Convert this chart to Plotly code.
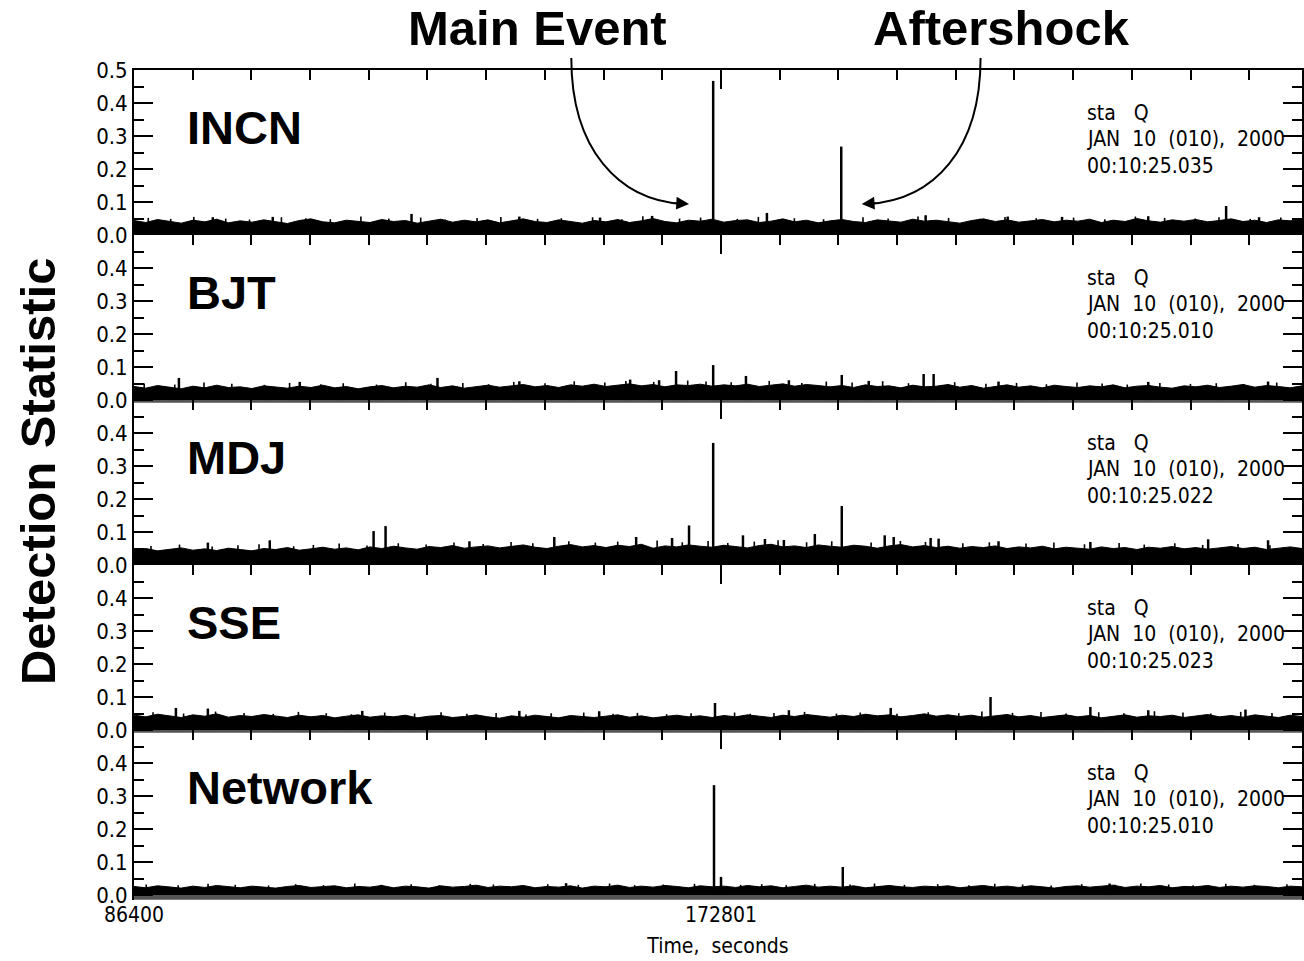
import numpy as np
import plotly.graph_objects as go

# ---------------------------------------------------------------- data
T_START, T_END = 86400, 258320

stations = ["INCN", "BJT", "MDJ", "SSE", "Network"]
origin_times = ["00:10:25.035", "00:10:25.010", "00:10:25.022",
                "00:10:25.023", "00:10:25.010"]
stat_name = "sta\u00a0\u00a0\u00a0Q"
stat_date = "JAN\u00a0\u00a010\u00a0\u00a0(010),\u00a0\u00a02000"

# upper edge of the dense background detection level (100 samples per station)
incn_band = [0.044, 0.038, 0.047, 0.041, 0.036, 0.045, 0.040, 0.048, 0.037, 0.043,
             0.039, 0.046, 0.041, 0.035, 0.044, 0.049, 0.040, 0.037, 0.045, 0.042,
             0.038, 0.047, 0.041, 0.044, 0.036, 0.042, 0.048, 0.039, 0.045, 0.040,
             0.046, 0.037, 0.043, 0.049, 0.041, 0.038, 0.046, 0.042, 0.036, 0.044,
             0.040, 0.047, 0.038, 0.043, 0.050, 0.041, 0.037, 0.045, 0.042, 0.048,
             0.039, 0.044, 0.046, 0.038, 0.042, 0.049, 0.040, 0.045, 0.037, 0.043,
             0.047, 0.041, 0.038, 0.046, 0.043, 0.039, 0.048, 0.042, 0.045, 0.040,
             0.036, 0.044, 0.049, 0.041, 0.046, 0.039, 0.043, 0.047, 0.040, 0.045,
             0.042, 0.048, 0.038, 0.045, 0.041, 0.050, 0.043, 0.039, 0.046, 0.042,
             0.047, 0.040, 0.044, 0.049, 0.041, 0.045, 0.038, 0.046, 0.043, 0.048]
bjt_band = [0.041, 0.036, 0.044, 0.039, 0.034, 0.042, 0.037, 0.045, 0.038, 0.040,
            0.035, 0.043, 0.039, 0.036, 0.042, 0.038, 0.045, 0.037, 0.041, 0.034,
            0.040, 0.044, 0.037, 0.042, 0.039, 0.046, 0.038, 0.043, 0.036, 0.041,
            0.045, 0.039, 0.043, 0.047, 0.040, 0.044, 0.038, 0.046, 0.042, 0.048,
            0.041, 0.045, 0.049, 0.043, 0.047, 0.040, 0.046, 0.044, 0.048, 0.042,
            0.046, 0.043, 0.048, 0.041, 0.045, 0.049, 0.042, 0.047, 0.044, 0.040,
            0.044, 0.038, 0.046, 0.041, 0.043, 0.037, 0.045, 0.040, 0.042, 0.047,
            0.039, 0.044, 0.036, 0.042, 0.046, 0.039, 0.043, 0.037, 0.045, 0.041,
            0.038, 0.043, 0.040, 0.046, 0.037, 0.042, 0.044, 0.039, 0.036, 0.043,
            0.040, 0.045, 0.038, 0.042, 0.047, 0.039, 0.044, 0.041, 0.037, 0.043]
mdj_band = [0.046, 0.050, 0.043, 0.048, 0.052, 0.045, 0.049, 0.044, 0.051, 0.047,
            0.043, 0.050, 0.047, 0.053, 0.045, 0.049, 0.054, 0.048, 0.052, 0.046,
            0.055, 0.050, 0.057, 0.052, 0.048, 0.056, 0.053, 0.059, 0.051, 0.055,
            0.058, 0.052, 0.056, 0.061, 0.054, 0.050, 0.057, 0.062, 0.055, 0.059,
            0.053, 0.060, 0.056, 0.063, 0.051, 0.058, 0.055, 0.061, 0.057, 0.054,
            0.060, 0.056, 0.052, 0.059, 0.063, 0.055, 0.058, 0.053, 0.061, 0.057,
            0.054, 0.060, 0.057, 0.051, 0.058, 0.062, 0.055, 0.059, 0.053, 0.057,
            0.051, 0.056, 0.053, 0.058, 0.050, 0.055, 0.052, 0.057, 0.049, 0.054,
            0.052, 0.048, 0.055, 0.050, 0.053, 0.047, 0.054, 0.051, 0.056, 0.049,
            0.053, 0.048, 0.052, 0.056, 0.050, 0.054, 0.047, 0.052, 0.055, 0.050]
sse_band = [0.045, 0.040, 0.048, 0.043, 0.038, 0.046, 0.042, 0.049, 0.039, 0.044,
            0.041, 0.047, 0.043, 0.038, 0.045, 0.040, 0.044, 0.037, 0.042, 0.046,
            0.039, 0.043, 0.040, 0.045, 0.037, 0.042, 0.044, 0.038, 0.041, 0.046,
            0.040, 0.036, 0.043, 0.039, 0.045, 0.041, 0.037, 0.044, 0.040, 0.038,
            0.042, 0.046, 0.039, 0.043, 0.037, 0.041, 0.045, 0.040, 0.043, 0.038,
            0.044, 0.040, 0.046, 0.042, 0.038, 0.045, 0.041, 0.047, 0.043, 0.039,
            0.045, 0.041, 0.048, 0.043, 0.046, 0.040, 0.044, 0.049, 0.042, 0.046,
            0.041, 0.045, 0.039, 0.043, 0.047, 0.040, 0.044, 0.038, 0.042, 0.046,
            0.040, 0.044, 0.037, 0.042, 0.046, 0.039, 0.043, 0.041, 0.045, 0.038,
            0.043, 0.047, 0.040, 0.044, 0.039, 0.046, 0.042, 0.038, 0.045, 0.041]
net_band = [0.026, 0.022, 0.028, 0.024, 0.021, 0.027, 0.023, 0.029, 0.025, 0.022,
            0.027, 0.024, 0.021, 0.026, 0.029, 0.023, 0.025, 0.028, 0.022, 0.026,
            0.024, 0.029, 0.022, 0.027, 0.025, 0.021, 0.028, 0.024, 0.026, 0.030,
            0.023, 0.027, 0.025, 0.029, 0.022, 0.026, 0.024, 0.028, 0.021, 0.027,
            0.025, 0.030, 0.023, 0.027, 0.024, 0.029, 0.026, 0.022, 0.028, 0.025,
            0.027, 0.023, 0.029, 0.025, 0.028, 0.022, 0.026, 0.030, 0.024, 0.027,
            0.024, 0.028, 0.022, 0.026, 0.029, 0.025, 0.023, 0.027, 0.025, 0.028,
            0.022, 0.026, 0.029, 0.024, 0.027, 0.023, 0.028, 0.025, 0.021, 0.026,
            0.028, 0.024, 0.026, 0.030, 0.023, 0.027, 0.025, 0.029, 0.022, 0.026,
            0.025, 0.029, 0.023, 0.027, 0.024, 0.028, 0.026, 0.022, 0.027, 0.025]
# lowest excursion of the background (grey fringe below zero)
band_floor = [-0.008, -0.008, -0.007, -0.008, -0.014]

# small excursions poking out of the background
incn_grass_t = [88500, 91800, 95200, 99900, 103400, 108100, 111700, 115300, 119800, 123900,
                128600, 132200, 136900, 140400, 145800, 149300, 153900, 158200, 161300, 166700,
                169800, 175200, 178300, 183600, 187900, 193700, 197400, 201800, 206300, 210900,
                214600, 219200, 224700, 229300, 233800, 238100, 242600, 246100, 250700, 255200]
incn_grass_v = [0.052, 0.049, 0.055, 0.050, 0.047, 0.054, 0.051, 0.048, 0.056, 0.050,
                0.053, 0.047, 0.052, 0.055, 0.049, 0.051, 0.054, 0.048, 0.057, 0.050,
                0.053, 0.049, 0.055, 0.051, 0.048, 0.054, 0.050, 0.056, 0.052, 0.049,
                0.055, 0.051, 0.053, 0.048, 0.056, 0.052, 0.050, 0.054, 0.049, 0.053]
bjt_grass_t = [87900, 92400, 96700, 100800, 105600, 109300, 113900, 117200, 122100, 126400,
               130100, 134800, 138600, 142300, 146900, 151200, 155700, 158800, 162900, 167900,
               170600, 174300, 179900, 184700, 188300, 192100, 196600, 200400, 207200, 211800,
               216300, 220700, 225200, 228900, 232600, 237400, 241900, 245700, 249800, 254600]
bjt_grass_v = [0.050, 0.047, 0.053, 0.049, 0.046, 0.052, 0.048, 0.051, 0.047, 0.054,
               0.049, 0.052, 0.048, 0.055, 0.051, 0.057, 0.053, 0.058, 0.055, 0.059,
               0.056, 0.054, 0.058, 0.052, 0.056, 0.053, 0.057, 0.051, 0.054, 0.049,
               0.052, 0.048, 0.053, 0.050, 0.047, 0.052, 0.049, 0.051, 0.048, 0.053]
mdj_grass_t = [88900, 93100, 97900, 101700, 104800, 109900, 112800, 116600, 120700, 125300,
               129400, 133500, 137800, 141900, 145100, 150400, 154300, 157600, 163400, 167100,
               170900, 173800, 177700, 181200, 185400, 189100, 194900, 199200, 202900, 208400,
               212300, 217700, 221800, 226300, 231400, 235100, 239600, 243700, 248900, 253600]
mdj_grass_v = [0.058, 0.062, 0.056, 0.060, 0.063, 0.057, 0.061, 0.065, 0.059, 0.066,
               0.062, 0.068, 0.064, 0.070, 0.066, 0.072, 0.068, 0.071, 0.074, 0.069,
               0.073, 0.067, 0.071, 0.075, 0.069, 0.072, 0.068, 0.073, 0.070, 0.066,
               0.069, 0.065, 0.068, 0.063, 0.067, 0.062, 0.066, 0.061, 0.064, 0.060]
sse_grass_t = [89200, 93700, 98400, 102600, 106900, 110600, 114700, 118400, 123300, 127700,
               131600, 135400, 139700, 144100, 147800, 152600, 156900, 160500, 164800, 168400,
               174800, 177100, 180600, 185100, 189800, 193300, 198700, 203300, 207800, 211200,
               215700, 219900, 223600, 228400, 232100, 236600, 240800, 244900, 249300, 253900]
sse_grass_v = [0.054, 0.050, 0.056, 0.052, 0.049, 0.055, 0.051, 0.048, 0.053, 0.050,
               0.054, 0.049, 0.052, 0.047, 0.051, 0.053, 0.049, 0.052, 0.048, 0.051,
               0.053, 0.049, 0.052, 0.055, 0.050, 0.053, 0.049, 0.054, 0.051, 0.056,
               0.052, 0.055, 0.050, 0.054, 0.051, 0.057, 0.053, 0.050, 0.055, 0.052]
net_grass_t = [88200, 92900, 97300, 101300, 106200, 110200, 114300, 118900, 122800, 127200,
               131300, 135900, 139300, 143600, 147300, 151800, 156400, 160100, 164300, 168900,
               175700, 178800, 182400, 186600, 191800, 195400, 199800, 204700, 209300, 213100,
               217200, 221400, 225900, 230800, 234600, 238700, 242300, 247100, 251300, 256100]
net_grass_v = [0.032, 0.030, 0.034, 0.031, 0.029, 0.033, 0.030, 0.035, 0.031, 0.033,
               0.030, 0.034, 0.032, 0.029, 0.033, 0.031, 0.035, 0.030, 0.032, 0.034,
               0.031, 0.033, 0.030, 0.034, 0.032, 0.035, 0.031, 0.033, 0.030, 0.034,
               0.032, 0.029, 0.033, 0.031, 0.035, 0.032, 0.030, 0.034, 0.031, 0.033]

# isolated detections: time (s) and statistic value
incn_spike_t = [171650, 190500, 179560, 247153, 127249, 162662, 202923, 106825,
                143119, 223000, 235691, 98000, 155000, 215000, 252000]
incn_spike_v = [0.467, 0.268, 0.067, 0.088, 0.064, 0.058, 0.060, 0.055,
                0.056, 0.055, 0.057, 0.054, 0.053, 0.056, 0.054]
bjt_spike_t = [171650, 166188, 176474, 190579, 202629, 204099, 93012, 131070,
               159429, 163690, 182793, 194548, 110792, 143119, 213650, 235691, 253324]
bjt_spike_v = [0.106, 0.088, 0.073, 0.076, 0.079, 0.079, 0.067, 0.067,
               0.062, 0.060, 0.060, 0.058, 0.055, 0.057, 0.056, 0.055, 0.056]
mdj_spike_t = [171650, 190579, 168098, 121666, 123429, 196899, 198221, 186613,
               176034, 148262, 160311, 165600, 179266, 182058, 203658, 204834,
               106384, 213650, 227169, 244508, 135772, 97273, 253324]
mdj_spike_v = [0.370, 0.179, 0.120, 0.103, 0.118, 0.090, 0.085, 0.094,
               0.090, 0.085, 0.085, 0.082, 0.079, 0.076, 0.082, 0.080,
               0.075, 0.072, 0.070, 0.078, 0.072, 0.068, 0.075]
sse_spike_t = [171919, 212475, 197780, 227169, 92571, 97273, 143119, 182793,
               154874, 235691, 250000, 120000]
sse_spike_v = [0.082, 0.100, 0.067, 0.070, 0.067, 0.065, 0.058, 0.060,
               0.057, 0.060, 0.062, 0.058]
net_spike_t = [171772, 190727, 172801, 150000, 230000]
net_spike_v = [0.333, 0.085, 0.055, 0.036, 0.035]

bands = [incn_band, bjt_band, mdj_band, sse_band, net_band]
grass_ts = [incn_grass_t, bjt_grass_t, mdj_grass_t, sse_grass_t, net_grass_t]
grass_vs = [incn_grass_v, bjt_grass_v, mdj_grass_v, sse_grass_v, net_grass_v]
spike_ts = [incn_spike_t, bjt_spike_t, mdj_spike_t, sse_spike_t, net_spike_t]
spike_vs = [incn_spike_v, bjt_spike_v, mdj_spike_v, sse_spike_v, net_spike_v]

x_tick_vals = [86400, 172801]
x_tick_text = ["86400", "172801"]
y_ticks_top = [0.0, 0.1, 0.2, 0.3, 0.4, 0.5]
y_ticks_rest = [0.0, 0.1, 0.2, 0.3, 0.4]

# ---------------------------------------------------------------- layout
W, H = 1304, 961
ML, MR, MT, MB = 134, 0, 70, 61
PLOT_H = H - MT - MB          # 830
PANEL_STEP = 165              # 0.0 .. 0.5
PANEL_EXT = 170               # includes the part below zero
Y_RANGE = [-0.015, 0.5]

NARROW = "DejaVu Sans Condensed, Liberation Sans Narrow, sans-serif"
BOLD = "Liberation Sans, Arial, Helvetica, sans-serif"


def sticks(ts, vs):
    """Vertical segments from zero up to each value."""
    sx, sy = [], []
    for t, v in zip(ts, vs):
        sx += [t, t, None]
        sy += [0, v, None]
    return sx, sy


fig = go.Figure()

for k in range(5):
    xa = "x" if k == 0 else f"x{k+1}"
    ya = "y" if k == 0 else f"y{k+1}"
    band = bands[k]
    band_x = np.linspace(T_START, T_END, len(band))

    # grey fringe below zero
    fig.add_trace(go.Scatter(
        x=[T_START, T_END], y=[band_floor[k], band_floor[k]],
        mode="lines", line=dict(width=0), fill="tozeroy",
        fillcolor="#555555", xaxis=xa, yaxis=ya, hoverinfo="skip",
        showlegend=False))
    # dense background level
    fig.add_trace(go.Scatter(
        x=band_x, y=band, mode="lines",
        line=dict(width=1, color="black"), fill="tozeroy", fillcolor="black",
        xaxis=xa, yaxis=ya, hoverinfo="skip", showlegend=False))
    # small excursions
    gx, gy = sticks(grass_ts[k], grass_vs[k])
    fig.add_trace(go.Scatter(
        x=gx, y=gy, mode="lines", line=dict(color="black", width=1.6),
        xaxis=xa, yaxis=ya, hoverinfo="skip", showlegend=False))
    # isolated detections
    sx, sy = sticks(spike_ts[k], spike_vs[k])
    fig.add_trace(go.Scatter(
        x=sx, y=sy, mode="lines", line=dict(color="black", width=2.5),
        xaxis=xa, yaxis=ya, hoverinfo="skip", showlegend=False))

    top_px = PANEL_STEP * k
    dom = [(PLOT_H - top_px - PANEL_EXT) / PLOT_H, (PLOT_H - top_px) / PLOT_H]
    dom = [max(0.0, dom[0]), min(1.0, dom[1])]

    xkey = "xaxis" if k == 0 else f"xaxis{k+1}"
    ykey = "yaxis" if k == 0 else f"yaxis{k+1}"
    fig.layout[xkey] = dict(
        domain=[0, 1], range=[T_START, T_END], anchor=ya, side="top",
        showline=True, linecolor="black", linewidth=2,
        ticks="inside", ticklen=19, tickwidth=2, tickcolor="black",
        tickmode="linear", tick0=86400, dtick=86400,
        minor=dict(ticks="inside", ticklen=10, tickwidth=2, tickcolor="black",
                   tick0=86400, dtick=8640),
        showticklabels=False, showgrid=False, zeroline=False,
        **({} if k == 0 else {"matches": "x"}))
    tv = y_ticks_top if k == 0 else y_ticks_rest
    fig.layout[ykey] = dict(
        domain=dom, range=Y_RANGE, anchor=xa,
        showline=True, linecolor="black", linewidth=2, mirror="ticks",
        ticks="inside", ticklen=19, tickwidth=2, tickcolor="black",
        tickmode="array", tickvals=tv, ticktext=[f"{v:.1f}" for v in tv],
        minor=dict(ticks="inside", ticklen=10, tickwidth=2, tickcolor="black",
                   tick0=0, dtick=0.05),
        tickfont=dict(family=NARROW, size=22, color="black"),
        showgrid=False, zeroline=False)

    # station name
    fig.add_annotation(
        xref=f"{xa} domain", yref=ya, x=0.0436, y=0.326, text=stations[k],
        showarrow=False, xanchor="left", yanchor="middle",
        font=dict(family=BOLD, size=47, color="black", weight="bold"))
    # stamp block
    for txt, yy in zip([stat_name, stat_date, origin_times[k]], [0.37, 0.29, 0.21]):
        fig.add_annotation(
            xref=f"{xa} domain", yref=ya, x=0.8145, y=yy, text=txt,
            showarrow=False, xanchor="left", yanchor="middle",
            font=dict(family=NARROW, size=21, color="black"))

# bottom time labels
fig.add_trace(go.Scatter(x=[T_START], y=[None], xaxis="x6", yaxis="y5",
                         mode="markers", showlegend=False, hoverinfo="skip"))
fig.layout["xaxis6"] = dict(
    overlaying="x5", anchor="y5", side="bottom", range=[T_START, T_END],
    tickmode="array", tickvals=x_tick_vals, ticktext=x_tick_text, ticks="",
    showline=False, showgrid=False, zeroline=False,
    tickfont=dict(family=NARROW, size=21, color="black"),
    title=dict(text="Time,\u00a0\u00a0seconds", standoff=12,
               font=dict(family=NARROW, size=21, color="black")))

# headings
for txt, xx in [("Main Event", 0.3453), ("Aftershock", 0.7427)]:
    fig.add_annotation(xref="paper", yref="paper", x=xx, y=1.0506, text=txt,
                       showarrow=False, xanchor="center", yanchor="middle",
                       font=dict(family=BOLD, size=49, color="black", weight="bold"))
fig.add_annotation(xref="paper", yref="paper", x=-0.0821, y=0.5157,
                   text="Detection Statistic", textangle=-90, showarrow=False,
                   xanchor="center", yanchor="middle",
                   font=dict(family=BOLD, size=49, color="black", weight="bold"))

# curved pointers from the headings to the detections
fig.add_shape(type="path", xref="paper", yref="paper",
              path="M 0.3744,1.0145 C 0.3744,0.9036 0.4154,0.8434 0.4692,0.8386",
              line=dict(color="black", width=2))
fig.add_shape(type="path", xref="paper", yref="paper",
              path="M 0.7248,1.0145 C 0.7248,0.9036 0.6846,0.8434 0.6291,0.8386",
              line=dict(color="black", width=2))
fig.add_annotation(xref="x", yref="y", x=168099, y=0.094, text="", showarrow=True,
                   ax=-16, ay=-1, arrowhead=2, arrowsize=1.6, arrowwidth=1.6,
                   arrowcolor="black")
fig.add_annotation(xref="x", yref="y", x=193519, y=0.094, text="", showarrow=True,
                   ax=16, ay=-1, arrowhead=2, arrowsize=1.6, arrowwidth=1.6,
                   arrowcolor="black")

fig.update_layout(
    width=W, height=H, margin=dict(l=ML, r=MR, t=MT, b=MB),
    paper_bgcolor="white", plot_bgcolor="white", showlegend=False)

fig.write_html("out.html")
